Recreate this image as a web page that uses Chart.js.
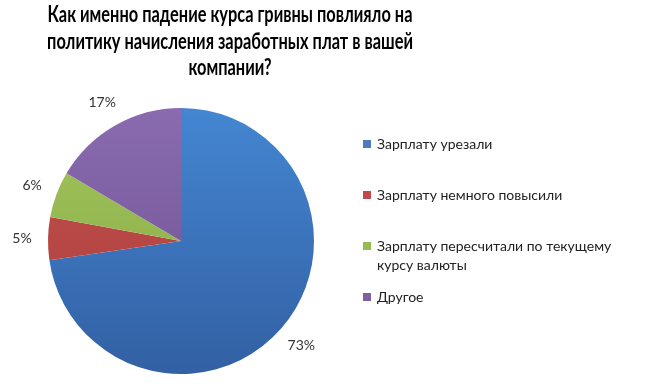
<!DOCTYPE html>
<html><head><meta charset="utf-8">
<script src="https://cdn.jsdelivr.net/npm/chart.js@4/dist/chart.umd.min.js"></script>
<style>html,body{margin:0;padding:0;background:#fff}#wrap{width:649px;height:391px;position:relative}</style>
</head><body><div id="wrap"><canvas id="c"></canvas></div>
<script>
const titleLines = ['Как именно падение курса гривны повлияло на', 'политику начисления заработных плат в вашей', 'компании?'];
const categories = ['Зарплату урезали', 'Зарплату немного повысили', 'Зарплату пересчитали по текущему курсу валюты', 'Другое'];
const legendLines = [['Зарплату урезали'], ['Зарплату немного повысили'], ['Зарплату пересчитали по текущему', 'курсу валюты'], ['Другое']];
const shares = [72.7, 5.2, 5.6, 16.5];
const colorsTop = ['#4486d2', '#c9524f', '#a2c55c', '#8a6bb0'];
const colorsBottom = ['#3260a3', '#a53d3a', '#86a846', '#6b4f8f'];
const legendColors = ['#4a7ebb', '#be4b48', '#98b954', '#7d60a0'];

const FONT = 'Lato, "Open Sans", sans-serif';

const titlePlugin = {
  id: 'customTitle',
  afterDraw(chart) {
    const ctx = chart.ctx;
    ctx.save();
    ctx.font = 'bold 22px ' + FONT;
    ctx.fillStyle = '#000';
    ctx.textAlign = 'center';
    ctx.textBaseline = 'middle';
    titleLines.forEach((t, i) => {
      const w = ctx.measureText(t).width;
      ctx.fillText(t, 230, 15 + i * 26.5, w * 0.745);
    });
    ctx.restore();
  }
};

const legendPlugin = {
  id: 'customLegend',
  afterDraw(chart) {
    const ctx = chart.ctx;
    ctx.save();
    ctx.font = '14px ' + FONT;
    ctx.textBaseline = 'middle';
    legendLines.forEach((lines, i) => {
      const y = 144 + i * 51;
      ctx.fillStyle = legendColors[i];
      ctx.fillRect(363, y - 4, 8, 8);
      ctx.fillStyle = '#222';
      lines.forEach((l, j) => ctx.fillText(l, 377, y + j * 19));
    });
    ctx.restore();
  }
};

const labelPlugin = {
  id: 'outLabels',
  afterDatasetsDraw(chart) {
    const ctx = chart.ctx;
    const meta = chart.getDatasetMeta(0);
    ctx.save();
    ctx.font = '14px ' + FONT;
    ctx.fillStyle = '#333';
    ctx.textAlign = 'center';
    ctx.textBaseline = 'middle';
    meta.data.forEach((arc, i) => {
      const mid = (arc.startAngle + arc.endAngle) / 2;
      const r = arc.outerRadius + 26;
      const x = arc.x + Math.cos(mid) * r;
      const y = arc.y + Math.sin(mid) * r;
      ctx.fillText(Math.round(shares[i]) + '%', x, y);
    });
    ctx.restore();
  }
};

function grad(ctx, i) {
  const ch = ctx.chart;
  const a = ch.chartArea;
  if (!a) return legendColors[i];
  const g = ch.ctx.createLinearGradient(0, a.top, 0, a.bottom);
  g.addColorStop(0, colorsTop[i]);
  g.addColorStop(1, colorsBottom[i]);
  return g;
}

new Chart(document.getElementById('c'), {
  type: 'pie',
  data: {
    labels: categories,
    datasets: [{
      data: shares,
      backgroundColor: (ctx) => grad(ctx, ctx.dataIndex),
      borderWidth: 0
    }]
  },
  options: {
    responsive: true,
    maintainAspectRatio: false,
    animation: false,
    layout: { padding: { top: 108, bottom: 17, left: 48, right: 335 } },
    plugins: { legend: { display: false }, title: { display: false }, tooltip: { enabled: false } }
  },
  plugins: [titlePlugin, legendPlugin, labelPlugin]
});
</script></body></html>
